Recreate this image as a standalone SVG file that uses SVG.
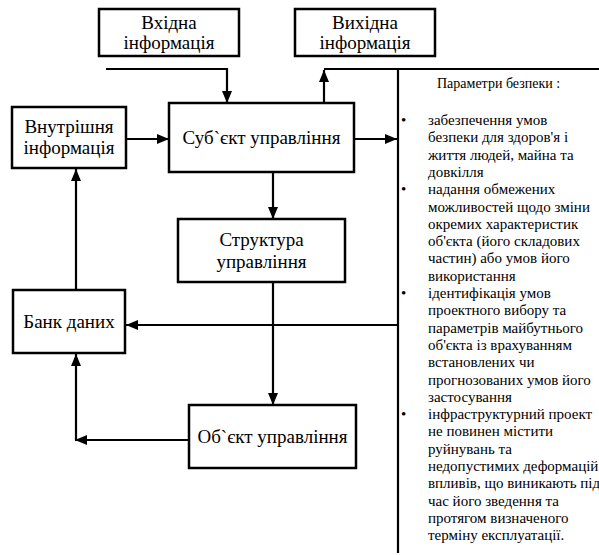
<svg xmlns="http://www.w3.org/2000/svg" width="599" height="555" viewBox="0 0 599 555">
<style>
  .box { fill: #ffffff; stroke: #000000; stroke-width: 2.5; }
  .lbl { font-size: 19px; fill: #000000; text-anchor: middle; }
  .con { fill: none; stroke: #000000; stroke-width: 2.2; }
  .par { font-size: 15px; fill: #000000; }
  .ttl { font-size: 14px; fill: #000000; }
</style>
<defs>
  <marker id="arr" markerUnits="userSpaceOnUse" markerWidth="12" markerHeight="12" viewBox="0 0 12 12" refX="12" refY="6" orient="auto">
    <path d="M0,1 L12,6 L0,11 Z" fill="#000000"/>
  </marker>
</defs>
<rect width="599" height="555" fill="#ffffff"/>

<g id="connectors">
  <path class="con" d="M106,69 H227 V103" marker-end="url(#arr)"/>
  <path class="con" d="M324,103 V70" marker-end="url(#arr)"/>
  <path class="con" d="M324,69 H599"/>
  <path class="con" d="M398,69 V553"/>
  <path class="con" d="M126,139 H169" marker-end="url(#arr)"/>
  <path class="con" d="M354,139 H397" marker-end="url(#arr)"/>
  <path class="con" d="M273,172 V219" marker-end="url(#arr)"/>
  <path class="con" d="M273,282 V405" marker-end="url(#arr)"/>
  <path class="con" d="M398,325 H126" marker-end="url(#arr)"/>
  <path class="con" d="M189,440 H75" marker-end="url(#arr)"/>
  <path class="con" d="M76,440 V354" marker-end="url(#arr)"/>
  <path class="con" d="M76,290 V169" marker-end="url(#arr)"/>
</g>

<g font-family="Liberation Serif, Times New Roman, Noto Serif, DejaVu Serif, serif">
<g id="vkhidna">
  <rect class="box" x="99" y="9" width="140" height="47"/>
  <text class="lbl" x="169" y="29">Вхідна</text>
  <text class="lbl" x="169" y="49">інформація</text>
</g>
<g id="vykhidna">
  <rect class="box" x="295" y="9" width="140" height="47"/>
  <text class="lbl" x="365" y="29">Вихідна</text>
  <text class="lbl" x="365" y="49">інформація</text>
</g>
<g id="vnutrishnia">
  <rect class="box" x="12" y="107" width="114" height="61"/>
  <text class="lbl" x="69" y="133">Внутрішня</text>
  <text class="lbl" x="69" y="154">інформація</text>
</g>
<g id="subiekt">
  <rect class="box" x="169" y="103" width="185" height="69"/>
  <text class="lbl" x="261.5" y="144">Суб`єкт управління</text>
</g>
<g id="struktura">
  <rect class="box" x="178" y="219" width="167" height="63"/>
  <text class="lbl" x="261.5" y="246">Структура</text>
  <text class="lbl" x="261.5" y="268">управління</text>
</g>
<g id="bank">
  <rect class="box" x="13" y="290" width="112" height="63"/>
  <text class="lbl" x="69" y="328">Банк даних</text>
</g>
<g id="obiekt">
  <rect class="box" x="189" y="405" width="167" height="63"/>
  <text class="lbl" x="272.5" y="443">Об`єкт управління</text>
</g>

<g id="parametry">
  <text class="ttl" x="437" y="88">Параметри безпеки :</text>
  <text class="par" x="401" y="125">•</text>
  <text class="par" x="401" y="194.2">•</text>
  <text class="par" x="401" y="298">•</text>
  <text class="par" x="401" y="419.1">•</text>
  <text class="par" x="428" y="125">забезпечення умов</text>
  <text class="par" x="428" y="142.3">безпеки для здоров'я і</text>
  <text class="par" x="428" y="159.6">життя людей, майна та</text>
  <text class="par" x="428" y="176.9">довкілля</text>
  <text class="par" x="428" y="194.2">надання обмежених</text>
  <text class="par" x="428" y="211.5">можливостей щодо зміни</text>
  <text class="par" x="428" y="228.8">окремих характеристик</text>
  <text class="par" x="428" y="246.1">об'єкта (його складових</text>
  <text class="par" x="428" y="263.4">частин) або умов його</text>
  <text class="par" x="428" y="280.7">використання</text>
  <text class="par" x="428" y="298">ідентифікація умов</text>
  <text class="par" x="428" y="315.3">проектного вибору та</text>
  <text class="par" x="428" y="332.6">параметрів майбутнього</text>
  <text class="par" x="428" y="349.9">об'єкта із врахуванням</text>
  <text class="par" x="428" y="367.2">встановлених чи</text>
  <text class="par" x="428" y="384.5">прогнозованих умов його</text>
  <text class="par" x="428" y="401.8">застосування</text>
  <text class="par" x="428" y="419.1">інфраструктурний проект</text>
  <text class="par" x="428" y="436.4">не повинен містити</text>
  <text class="par" x="428" y="453.7">руйнувань та</text>
  <text class="par" x="428" y="471">недопустимих деформацій</text>
  <text class="par" x="428" y="488.3">впливів, що виникають під</text>
  <text class="par" x="428" y="505.6">час його зведення та</text>
  <text class="par" x="428" y="522.9">протягом визначеного</text>
  <text class="par" x="428" y="540.2">терміну експлуатації.</text>
</g>
</g>
</svg>
